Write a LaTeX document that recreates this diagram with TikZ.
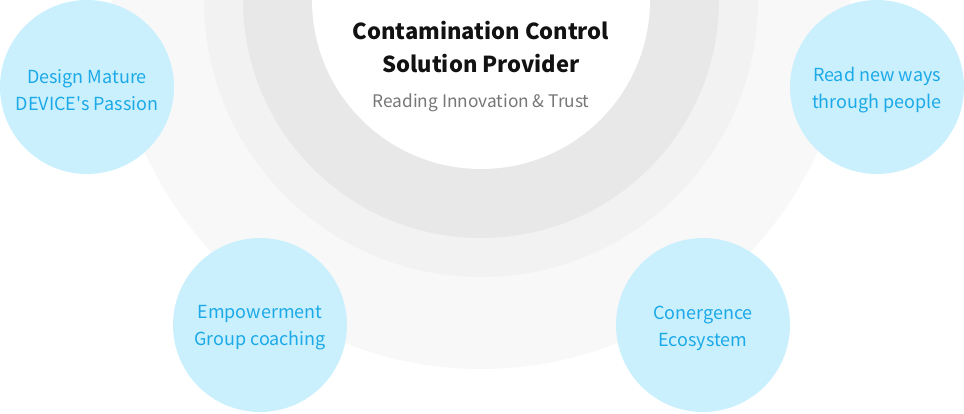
\documentclass[tikz,border=0pt]{standalone}
\usepackage{fontspec}
\setmainfont{Noto Sans CJK KR}
\usepackage{xcolor}
\definecolor{ringA}{HTML}{F8F8F8}
\definecolor{ringB}{HTML}{F2F2F2}
\definecolor{ringC}{HTML}{E8E8E8}
\definecolor{bubble}{HTML}{CBF0FD}
\definecolor{bubbletext}{HTML}{1BA9E8}
\definecolor{subgray}{HTML}{777777}

\begin{document}
\begin{tikzpicture}[x=1pt, y=-1pt,
    bubble/.style={circle, fill=bubble, minimum size=174pt, inner sep=0pt},
    bubblelbl/.style={align=center, text=bubbletext, yshift=-3pt,
        font=\fontsize{18}{27}\selectfont}]

    \useasboundingbox (0,0) rectangle (964,413);
    \clip (0,0) rectangle (964,413);

    % Rings
    \fill[ringA] (481,0) circle (369);
    \fill[ringB] (481,0) circle (277);
    \fill[ringC] (481,0) circle (238);
    \fill[white] (481,0) circle (169);

    % Title
    \node[align=center, font=\fontsize{22}{33}\selectfont\bfseries, text=black!93] (title) at (481,47.5) {Contamination Control\\Solution Provider};
    \node[font=\fontsize{17.3}{20}\selectfont, text=subgray] (sub) at (481,103) {Reading Innovation \& Trust};

    % Bubbles
    \node[bubble, label={[bubblelbl]center:Design Mature\\DEVICE\textquotesingle s Passion}] (design) at (87,87) {};
    \node[bubble, label={[bubblelbl]center:Read new ways\\through people}] (read) at (877,87) {};
    \node[bubble, label={[bubblelbl]center:Empowerment\\Group coaching}] (empower) at (260,325) {};
    \node[bubble, label={[bubblelbl]center:Conergence\\Ecosystem}] (conv) at (703,325) {};

\end{tikzpicture}
\end{document}
